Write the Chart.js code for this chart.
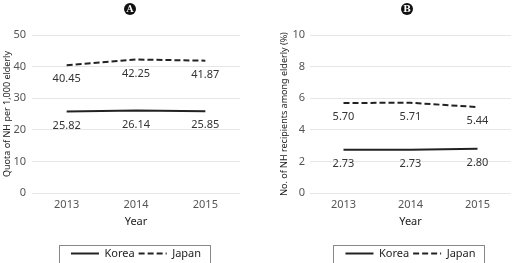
<!DOCTYPE html>
<html>
<head>
<meta charset="utf-8">
<script src="https://cdn.jsdelivr.net/npm/chart.js@4"></script>
<style>
  body { margin: 0; background: #fff; }
  .wrap { display: flex; width: 514px; height: 263px; }
</style>
</head>
<body>
<div class="wrap">
  <canvas id="chartA" width="257" height="263"></canvas>
  <canvas id="chartB" width="257" height="263"></canvas>
</div>
<script>
const years = ['2013', '2014', '2015'];
const koreaQuota = [25.82, 26.14, 25.85];
const japanQuota = [40.45, 42.25, 41.87];
const koreaRate = [2.73, 2.73, 2.80];
const japanRate = [5.70, 5.71, 5.44];

Chart.defaults.font.family = "'Noto Sans', 'DejaVu Sans', sans-serif";

// numbers under each point
const valueLabels = {
    id: 'valueLabels',
    afterDatasetsDraw(chart) {
        const ctx = chart.ctx;
        ctx.save();
        ctx.font = "11px 'Noto Sans'";
        ctx.fillStyle = '#333';
        ctx.textAlign = 'center';
        ctx.textBaseline = 'middle';
        chart.data.datasets.forEach((ds, i) => {
            chart.getDatasetMeta(i).data.forEach((pt, j) => {
                ctx.fillText(ds.data[j].toFixed(2), pt.x, pt.y + 14);
            });
        });
        ctx.restore();
    }
};

// black circle with the panel letter
const panelMark = {
    id: 'panelMark',
    afterDraw(chart, args, opts) {
        const ctx = chart.ctx;
        ctx.save();
        ctx.fillStyle = '#111';
        ctx.beginPath();
        ctx.arc(opts.x, 9, 6, 0, Math.PI * 2);
        ctx.fill();
        ctx.fillStyle = '#fff';
        ctx.font = "bold 9px 'DejaVu Serif'";
        ctx.textAlign = 'center';
        ctx.textBaseline = 'middle';
        ctx.fillText(opts.letter, opts.x, 9.5);
        ctx.restore();
    }
};

// frame around the legend
const legendFrame = {
    id: 'legendFrame',
    afterDraw(chart) {
        const boxes = chart.legend.legendHitBoxes;
        if (!boxes || !boxes.length) return;
        const ctx = chart.ctx;
        const left = Math.min(...boxes.map(b => b.left)) - 12;
        const right = Math.max(...boxes.map(b => b.left + b.width)) + 9;
        const top = boxes[0].top - 3;
        ctx.save();
        ctx.strokeStyle = '#888';
        ctx.lineWidth = 1;
        ctx.strokeRect(Math.round(left) + 0.5, Math.round(top) + 0.5, Math.round(right - left), chart.height);
        ctx.restore();
    }
};

function makeChart(id, korea, japan, yMax, yStep, yTitle, opt) {
    new Chart(document.getElementById(id), {
        type: 'line',
        data: {
            labels: years,
            datasets: [
                {
                    label: 'Korea',
                    data: korea,
                    borderColor: '#222',
                    borderWidth: 2,
                    pointRadius: 0,
                    tension: 0
                },
                {
                    label: 'Japan',
                    data: japan,
                    borderColor: '#222',
                    borderWidth: 2,
                    borderDash: [6, 3],
                    pointRadius: 0,
                    tension: 0
                }
            ]
        },
        options: {
            responsive: false,
            animation: false,
            layout: { padding: { top: 35, right: opt.right, left: 0, bottom: -6 } },
            scales: {
                x: {
                    offset: true,
                    grid: { display: false, drawTicks: false },
                    border: { display: false },
                    ticks: { font: { size: 11 }, color: '#555', padding: 5 },
                    title: {
                        display: true, text: 'Year', color: '#222',
                        font: { size: 11 }, padding: { top: 0, bottom: 16 }
                    },
                    afterFit: s => { s.height = 51; }
                },
                y: {
                    min: 0,
                    max: yMax,
                    ticks: { stepSize: yStep, font: { size: 11 }, color: '#555', padding: opt.tickPad },
                    grid: { color: '#e6e6e6', drawTicks: false },
                    border: { display: false },
                    title: {
                        display: true, text: yTitle, color: '#222',
                        font: { size: 9 }, padding: { top: opt.titlePad, bottom: 0 }
                    },
                    afterFit: s => { s.width = opt.axisWidth; }
                }
            },
            plugins: {
                legend: {
                    position: 'bottom',
                    fullSize: false,
                    labels: {
                        usePointStyle: true,
                        pointStyle: 'line',
                        pointStyleWidth: 28,
                        color: '#222',
                        font: { size: 11 },
                        padding: 4,
                        generateLabels(chart) {
                            const items = Chart.defaults.plugins.legend.labels.generateLabels(chart);
                            items.forEach((it, i) => {
                                it.lineDash = chart.data.datasets[i].borderDash || [];
                                it.strokeStyle = '#222';
                                it.lineWidth = 2;
                            });
                            return items;
                        }
                    }
                },
                tooltip: { enabled: false },
                panelMark: { letter: opt.letter, x: opt.markX }
            }
        },
        plugins: [valueLabels, panelMark, legendFrame]
    });
}

makeChart('chartA', koreaQuota, japanQuota, 50, 10, 'Quota of NH per 1,000 elderly',
    { right: 17, tickPad: 6, titlePad: 2, axisWidth: 32, letter: 'A', markX: 130 });
makeChart('chartB', koreaRate, japanRate, 10, 2, 'No. of NH recipients among elderly (%)',
    { right: 3, tickPad: 5, titlePad: 22, axisWidth: 53, letter: 'B', markX: 150 });
</script>
</body>
</html>
